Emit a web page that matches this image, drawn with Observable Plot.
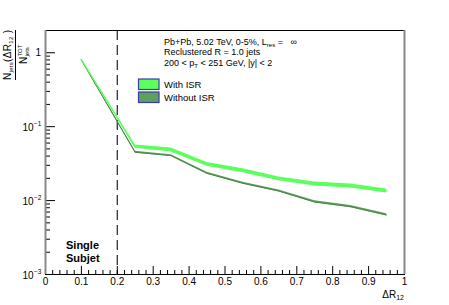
<!DOCTYPE html>
<html>
<head>
<meta charset="utf-8">
<script src="https://cdn.jsdelivr.net/npm/d3@7"></script>
<script src="https://cdn.jsdelivr.net/npm/@observablehq/plot@0.6"></script>
<style>
  html, body { margin: 0; padding: 0; background: #fff; }
  svg text { white-space: pre; }
</style>
</head>
<body>
<div id="chart"></div>
<script>
// ---- data ----
const deltaR = [0.1, 0.25, 0.35, 0.45, 0.55, 0.65, 0.75, 0.85, 0.95];
const withISR = [0.81, 0.0537, 0.0484, 0.031, 0.0254, 0.0197, 0.0168, 0.0158, 0.0135];
const withoutISR = [0.80, 0.0451, 0.0406, 0.0234, 0.0172, 0.0135, 0.0096, 0.0083, 0.0064];
const withISRErr = [0.015, 0.05, 0.06, 0.06, 0.06, 0.06, 0.06, 0.06, 0.06];
const withoutISRErr = [0.015, 0.03, 0.03, 0.03, 0.03, 0.03, 0.035, 0.035, 0.035];
const seriesNames = ["With ISR", "Without ISR"];
const seriesColors = ["#5cff5c", "#5f9f5f"];
const xMajorTicks = [0, 0.1, 0.2, 0.3, 0.4, 0.5, 0.6, 0.7, 0.8, 0.9, 1];
const xTickLabels = ["0", "0.1", "0.2", "0.3", "0.4", "0.5", "0.6", "0.7", "0.8", "0.9", "1"];
const xMinorTicks = [0.02,0.04,0.06,0.08,0.12,0.14,0.16,0.18,0.22,0.24,0.26,0.28,0.32,0.34,0.36,0.38,0.42,0.44,0.46,0.48,0.52,0.54,0.56,0.58,0.62,0.64,0.66,0.68,0.72,0.74,0.76,0.78,0.82,0.84,0.86,0.88,0.92,0.94,0.96,0.98];
const yDecades = [0.001, 0.01, 0.1, 1];
const yDecadeExponents = [-3, -2, -1, 0];
const yMinorTicks = [0.002,0.003,0.004,0.005,0.006,0.007,0.008,0.009,0.02,0.03,0.04,0.05,0.06,0.07,0.08,0.09,0.2,0.3,0.4,0.5,0.6,0.7,0.8,0.9,2];
const singleSubjetCut = 0.2;
const infoLines = [
  ["Pb+Pb, 5.02 TeV, 0-5%, L", "res", " =   \u221E"],
  ["Reclustered R = 1.0 jets", "", ""],
  ["200 < p", "T", " < 251 GeV, |y| < 2"]
];
const regionLabel = ["Single", "Subjet"];

// ---- tables ----
const isrData = deltaR.map((x, i) => ({x, y: withISR[i], lo: withISR[i] * (1 - withISRErr[i]), hi: withISR[i] * (1 + withISRErr[i])}));
const noIsrData = deltaR.map((x, i) => ({x, y: withoutISR[i], lo: withoutISR[i] * (1 - withoutISRErr[i]), hi: withoutISR[i] * (1 + withoutISRErr[i])}));

const W = 449, H = 305, mT = 30, mR = 45, mB = 31, mL = 45;
const frameW = W - mL - mR, frameH = H - mT - mB;
const font = "'Liberation Sans', Arial, Helvetica, sans-serif";

const chart = Plot.plot({
  width: W, height: H,
  marginTop: mT, marginRight: mR, marginBottom: mB, marginLeft: mL,
  style: {fontFamily: font, fontSize: "10px", background: "#fff", overflow: "visible", color: "#000"},
  x: {domain: [0, 1], axis: null},
  y: {type: "log", domain: [0.001, 2], axis: null},
  marks: [
    Plot.ruleX([singleSubjetCut], {stroke: "#333", strokeWidth: 1.3, strokeDasharray: "10,5"}),
    Plot.areaY(noIsrData, {x: "x", y1: "lo", y2: "hi", fill: seriesColors[1]}),
    Plot.line(noIsrData, {x: "x", y: "y", stroke: "#4a884a", strokeWidth: 1}),
    Plot.areaY(isrData, {x: "x", y1: "lo", y2: "hi", fill: seriesColors[0]}),
    Plot.line(isrData, {x: "x", y: "y", stroke: seriesColors[0], strokeWidth: 1.2}),
    Plot.tickX(xMajorTicks, {x: d => d, insetTop: frameH - 8, stroke: "#000"}),
    Plot.tickX(xMinorTicks, {x: d => d, insetTop: frameH - 4, stroke: "#000"}),
    Plot.tickY(yDecades, {y: d => d, insetRight: frameW - 10, stroke: "#000"}),
    Plot.tickY(yMinorTicks, {y: d => d, insetRight: frameW - 5, stroke: "#000"}),
    Plot.frame({stroke: "#000"}),
    Plot.ruleX([0, 1], {stroke: "#888", strokeWidth: 2}),
    Plot.text(xMajorTicks, {x: d => d, text: (d, i) => xTickLabels[i], frameAnchor: "bottom", lineAnchor: "top", dy: 3, fontSize: 10, fill: "#000"})
  ]
});
document.getElementById("chart").appendChild(chart);

// ---- rich text annotations ----
const svg = d3.select(chart);
const ys = chart.scale("y");
const g = svg.append("g").attr("font-family", font).attr("fill", "#000").attr("text-anchor", "start");

// y tick labels with superscripts
yDecades.forEach((v, i) => {
  const py = ys.apply(v);
  const e = yDecadeExponents[i];
  if (e === 0) {
    g.append("text").attr("x", 41).attr("y", py + 3.5).attr("text-anchor", "end").attr("font-size", 10).text("1");
  } else {
    g.append("text").attr("x", 33.5).attr("y", py + 4.5).attr("text-anchor", "end").attr("font-size", 10).text("10");
    g.append("text").attr("x", 34).attr("y", py - 0.5).attr("text-anchor", "start").attr("font-size", 6.5).text("\u2212" + Math.abs(e));
  }
});

// y axis title (fraction)
const yl = g.append("g").attr("transform", "translate(0,55) rotate(-90)");
const num = yl.append("text").attr("x", 0).attr("y", 11).attr("text-anchor", "middle").attr("font-size", 10)
  .attr("textLength", 50).attr("lengthAdjust", "spacing");
num.append("tspan").text("N");
num.append("tspan").attr("font-size", 6).attr("dy", 2).text("jets");
num.append("tspan").attr("dy", -2).text("(\u0394R");
num.append("tspan").attr("font-size", 6).attr("dy", 2).text("12");
num.append("tspan").attr("dy", -2).text(" )");
yl.append("line").attr("x1", -25).attr("x2", 25).attr("y1", 15.5).attr("y2", 15.5).attr("stroke", "#000").attr("stroke-width", 1);
yl.append("text").attr("x", -9).attr("y", 27).attr("text-anchor", "start").attr("font-size", 10).text("N");
yl.append("text").attr("x", -1.5).attr("y", 22).attr("text-anchor", "start").attr("font-size", 6).text("TOT");
yl.append("text").attr("x", -1.5).attr("y", 29).attr("text-anchor", "start").attr("font-size", 6).text("jets");

// x axis title
const xt = g.append("text").attr("x", 404).attr("y", 298).attr("text-anchor", "end").attr("font-size", 10);
xt.append("tspan").text("\u0394R");
xt.append("tspan").attr("font-size", 7).attr("dy", 2).text("12");

// info block
infoLines.forEach((parts, i) => {
  const t = g.append("text").attr("x", 164).attr("y", 44.5 + i * 10.6).attr("text-anchor", "start").attr("font-size", 9);
  t.append("tspan").text(parts[0]);
  if (parts[1]) {
    t.append("tspan").attr("font-size", 6).attr("dy", 2).text(parts[1]);
    t.append("tspan").attr("dy", -2).text(parts[2]);
  }
});

// legend
seriesNames.forEach((name, i) => {
  const y0 = 79 + i * 13;
  g.append("rect").attr("x", 138.5).attr("y", y0).attr("width", 20.5).attr("height", 10.5)
    .attr("fill", seriesColors[i]).attr("stroke", "#3a3aa8").attr("stroke-width", 1.2);
  g.append("text").attr("x", 164).attr("y", y0 + 9).attr("text-anchor", "start").attr("font-size", 9.5).text(name);
});

// region label
regionLabel.forEach((s, i) => {
  g.append("text").attr("x", 66).attr("y", 249 + i * 12.5).attr("text-anchor", "start").attr("font-size", 11).attr("font-weight", "bold").text(s);
});
</script>
</body>
</html>
